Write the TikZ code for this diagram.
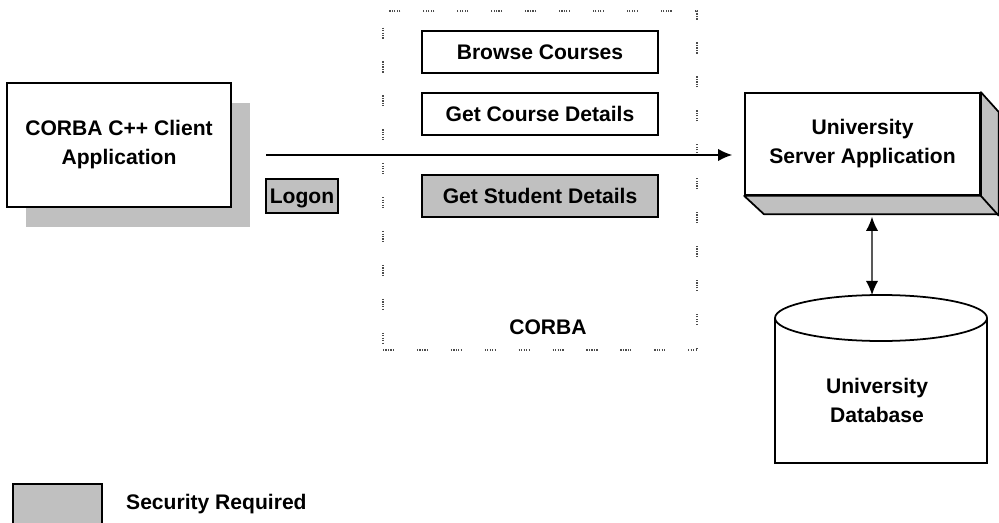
\documentclass[tikz,border=0pt]{standalone}
\usepackage{fontspec}
\setmainfont{Liberation Sans}
\usepackage{tikz}
\usetikzlibrary{calc,arrows.meta,shapes,positioning,shadows}
\definecolor{silver}{RGB}{192,192,192}

\begin{document}
\begin{tikzpicture}[x=0.02cm, y=-0.02cm,
   txt/.style={font=\fontsize{12}{16.5}\selectfont\bfseries, align=center},
   box/.style={txt, draw=black, line width=1pt, fill=white, inner sep=0pt},
   secure/.style={box, fill=silver},
   op/.style={box, minimum width=4.72cm, minimum height=0.84cm},
   link/.style={line width=0.8pt, -{Latex[length=8pt,width=7pt]}},
   dlink/.style={line width=0.8pt, {Latex[length=8pt,width=7pt]}-{Latex[length=8pt,width=7pt]}},
   frame/.style={draw=black!70, line width=0.9pt,
      dash pattern=on 0.7pt off 0.7pt on 0.7pt off 0.7pt on 0.7pt off 0.7pt on 0.7pt off 0.7pt on 0.7pt off 13pt,
      minimum width=6.28cm, minimum height=6.78cm}]
   \useasboundingbox (0,0) rectangle (999,523);

   % client side
   \node[box, minimum width=4.48cm, minimum height=2.48cm,
      drop shadow={shadow xshift=0.38cm, shadow yshift=-0.4cm, fill=silver, opacity=1}]
      (cl) at (119,145) {CORBA C++ Client\\Application};
   \node[secure, minimum width=1.44cm, minimum height=0.68cm, text depth=0pt] (logon) at (302,196) {Logon};

   % corba operations
   \node[frame] (orb) at (540,180.5) {};
   \node[op] (bc) at (540,52) {Browse Courses};
   \node[op] (gcd) at (540,114) {Get Course Details};
   \node[op, secure] (gsd) at (540,196) {Get Student Details};
   \node[txt] (orbl) at (548,327) {CORBA};

   % server, with its 3d faces
   \node[box, minimum width=4.7cm, minimum height=2.04cm] (srv) at (862.5,144) {University\\Server Application};
   \filldraw[fill=silver, line width=1pt, line join=round]
      (srv.north east) -- ++(18,20) -- ++(0,102) -- ++(-235,0) -- (srv.south west) -- (srv.south east) -- cycle;
   \draw[line width=1pt] (srv.south east) -- ++(18,20);

   % database
   \draw[line width=1pt] (775,318) -- (775,463) -- (987,463) -- (987,318);
   \draw[line width=1pt, fill=white] (881,318) ellipse [x radius=106, y radius=23];
   \coordinate (dbtop) at (872,295);
   \node[txt] (db) at (877,400) {University\\Database};

   \coordinate (m1) at (266,155);
   \draw[link, shorten >=0.24cm] (m1) -- (m1 -| srv.west);
   \draw[dlink] ($(srv.south)+(9.5,21)$) -- (dbtop);

   % legend
   \node[secure, minimum width=1.78cm, minimum height=0.88cm] (key) at (57.5,506) {};
   \node[txt, anchor=base west] (keyl) at (120,509) {Security Required};
\end{tikzpicture}
\end{document}
